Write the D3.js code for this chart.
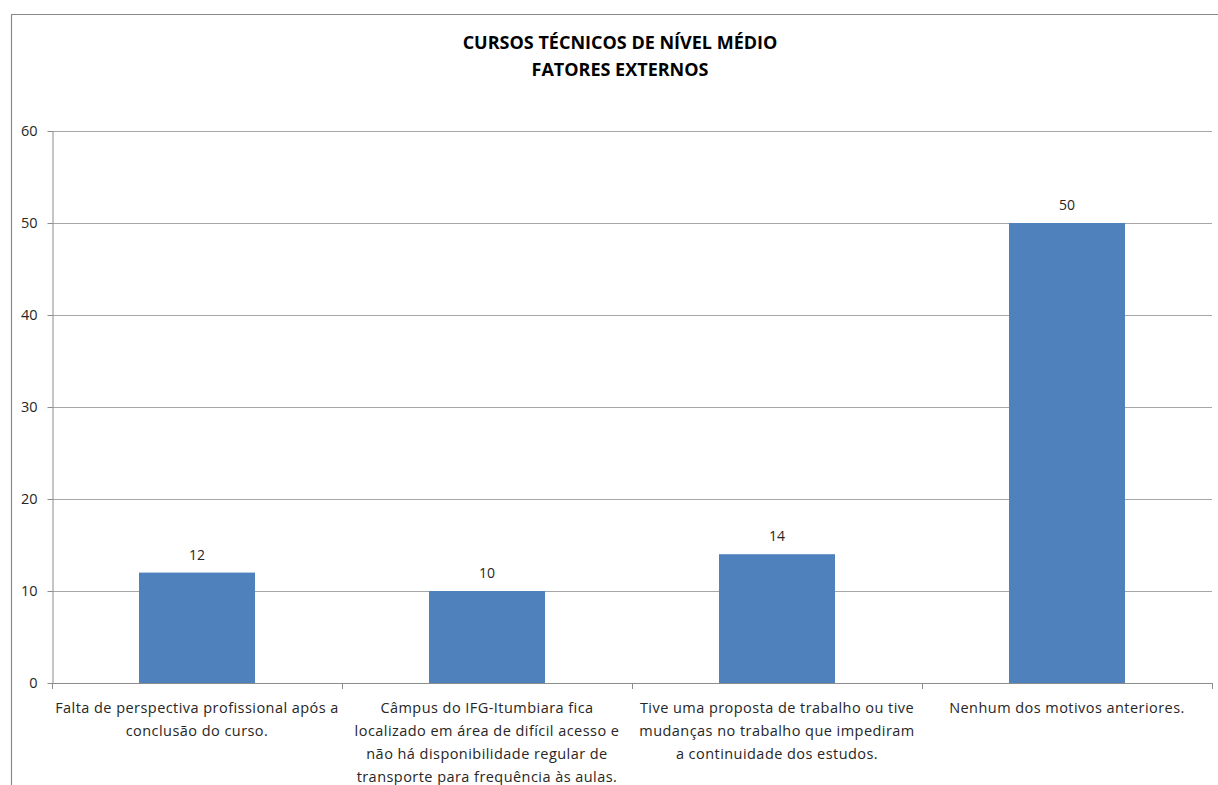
<!DOCTYPE html>
<html><head><meta charset="utf-8">
<script src="https://cdn.jsdelivr.net/npm/d3@7"></script>
<style>body{margin:0;background:#fff;} svg{display:block;}</style>
</head><body>
<svg id="chart" width="1218" height="785"></svg>
<script>
const titleLines = ["CURSOS TÉCNICOS DE NÍVEL MÉDIO", "FATORES EXTERNOS"];
const categories = [
  "Falta de perspectiva profissional após a conclusão do curso.",
  "Câmpus do IFG-Itumbiara fica localizado em área de difícil acesso e não há disponibilidade regular de transporte para frequência às aulas.",
  "Tive uma proposta de trabalho ou tive mudanças no trabalho que impediram a continuidade dos estudos.",
  "Nenhum dos motivos anteriores."
];
const categoryLines = [
  ["Falta de perspectiva profissional após a", "conclusão do curso."],
  ["Câmpus do IFG-Itumbiara fica", "localizado em área de difícil acesso e", "não há disponibilidade regular de", "transporte para frequência às aulas."],
  ["Tive uma proposta de trabalho ou tive", "mudanças no trabalho que impediram", "a continuidade dos estudos."],
  ["Nenhum dos motivos anteriores."]
];
const values = [12, 10, 14, 50];
const yTicks = [0, 10, 20, 30, 40, 50, 60];

(function(){
const svg = d3.select("#chart");
const font = "'Open Sans', 'DejaVu Sans', sans-serif";
const pLeft = 52, pRight = 1212, pTop = 131, pBottom = 683;

// outer border
svg.append("path").attr("d", "M11.5,785 V14.5 H1218").attr("fill","none").attr("stroke","#8a8a8a").attr("stroke-width",1.2);

const x = d3.scaleBand().domain(categories).range([pLeft, pRight]).paddingInner(0.6).paddingOuter(0.3);
const y = d3.scaleLinear().domain([0, 60]).range([pBottom, pTop]);

// gridlines
svg.append("g").selectAll("line").data(yTicks.filter(d=>d>0)).join("line")
  .attr("x1", pLeft).attr("x2", pRight)
  .attr("y1", d=>Math.round(y(d))+0.5).attr("y2", d=>Math.round(y(d))+0.5)
  .attr("stroke", "#a6a6a6").attr("stroke-width", 1);

// bars
svg.append("g").selectAll("rect").data(values).join("rect")
  .attr("x", (d,i)=>x(categories[i])).attr("width", x.bandwidth())
  .attr("y", d=>y(d)).attr("height", d=>y(0)-y(d))
  .attr("fill", "#4f81bd");

// value labels
svg.append("g").selectAll("text").data(values).join("text")
  .attr("x", (d,i)=>x(categories[i]) + x.bandwidth()/2)
  .attr("y", d=>y(d) - 13)
  .attr("text-anchor","middle").attr("font-family", font).attr("font-size", 14).attr("fill","#262626")
  .text(d=>d);

// y axis
const yAxis = d3.axisLeft(y).tickValues(yTicks).tickSize(5).tickPadding(10).tickSizeOuter(0);
const yg = svg.append("g").attr("transform", `translate(${pLeft+0.5},0)`).call(yAxis);
yg.select(".domain").attr("stroke","#8c8c8c");
yg.selectAll(".tick line").attr("stroke","#8c8c8c");
yg.selectAll(".tick text").attr("font-family", font).attr("font-size", 14.5).attr("fill","#262626");

// x axis line and ticks at band boundaries
const xg = svg.append("g");
xg.append("line").attr("x1", pLeft).attr("x2", pRight).attr("y1", pBottom+0.5).attr("y2", pBottom+0.5).attr("stroke","#8c8c8c");
const bounds = categories.map(c => x(c) - x.step()*x.paddingInner()/2).concat([pRight]);
bounds[0] = pLeft;
xg.selectAll("line.tk").data(bounds).join("line").attr("class","tk")
  .attr("x1", d=>Math.round(d)+0.5).attr("x2", d=>Math.round(d)+0.5)
  .attr("y1", pBottom).attr("y2", pBottom+6).attr("stroke","#8c8c8c");

// category labels
const lab = svg.append("g");
categoryLines.forEach((lines, i) => {
  const cx = x(categories[i]) + x.bandwidth()/2;
  const t = lab.append("text").attr("text-anchor","middle").attr("font-family", font)
    .attr("font-size", 14.5).attr("letter-spacing", 0.45).attr("fill","#262626");
  lines.forEach((ln, j) => {
    t.append("tspan").attr("x", cx).attr("y", 713 + j*23).text(ln);
  });
});

// title
const tt = svg.append("text").attr("text-anchor","middle").attr("font-family", font)
  .attr("font-weight","bold").attr("font-size", 18).attr("fill","#000");
titleLines.forEach((ln, j) => tt.append("tspan").attr("x", 620).attr("y", 49 + j*27).text(ln));
})();
</script>
</body></html>
